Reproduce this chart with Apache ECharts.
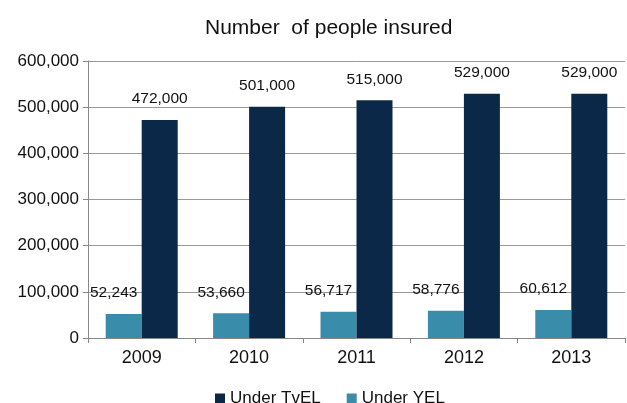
<!DOCTYPE html>
<html>
<head>
<meta charset="utf-8">
<script src="https://cdn.jsdelivr.net/npm/echarts@6/dist/echarts.min.js"></script>
<style>
  html, body { margin: 0; padding: 0; background: #fff; }
  #chart { width: 627px; height: 403px; }
</style>
</head>
<body>
<div id="chart"></div>
<script>
const years = ['2009', '2010', '2011', '2012', '2013']
const underYEL = [52243, 53660, 56717, 58776, 60612]
const underTvEL = [472000, 501000, 515000, 529000, 529000]

const font = 'Liberation Sans, Arial, sans-serif'
const fmt = v => v.toLocaleString('en-US')

const chart = echarts.init(document.getElementById('chart'))

chart.setOption({
  animation: false,
  textStyle: { fontFamily: font },
  title: {
    text: 'Number  of people insured',
    left: 200,
    top: 13,
    textStyle: { fontFamily: font, fontSize: 21, fontWeight: 'normal', color: '#111' }
  },
  legend: {
    data: ['Under TvEL', 'Under YEL'],
    top: 385,
    left: 210,
    icon: 'rect',
    itemWidth: 10,
    itemHeight: 10,
    itemGap: 26,
    textStyle: { fontFamily: font, fontSize: 17, color: '#111' }
  },
  grid: { left: 88, right: 2, top: 61, bottom: 65 },
  xAxis: {
    type: 'category',
    data: years,
    axisLine: { lineStyle: { color: '#888' } },
    axisTick: { show: true, length: 5, lineStyle: { color: '#888' } },
    axisLabel: { fontSize: 18, color: '#111', margin: 11 },
    splitLine: { show: false }
  },
  yAxis: {
    type: 'value',
    min: 0,
    max: 600000,
    interval: 100000,
    axisLine: { show: true, lineStyle: { color: '#888' } },
    axisTick: { show: true, length: 5, lineStyle: { color: '#888' } },
    axisLabel: { fontSize: 17, color: '#111', margin: 9, formatter: fmt },
    splitLine: { lineStyle: { color: '#999' } }
  },
  series: [
    {
      name: 'Under YEL',
      type: 'bar',
      data: underYEL,
      barWidth: 36,
      barGap: '0%',
      itemStyle: { color: '#3a8cab' },
      label: {
        show: true,
        position: 'top',
        distance: 13,
        offset: [-10, 0],
        fontSize: 15.5,
        color: '#111',
        formatter: p => fmt(p.value)
      }
    },
    {
      name: 'Under TvEL',
      type: 'bar',
      data: underTvEL,
      barWidth: 36,
      itemStyle: { color: '#0b2849' },
      label: {
        show: true,
        position: 'top',
        distance: 13,
        fontSize: 15.5,
        color: '#111',
        formatter: p => fmt(p.value)
      }
    }
  ]
})
</script>
</body>
</html>
